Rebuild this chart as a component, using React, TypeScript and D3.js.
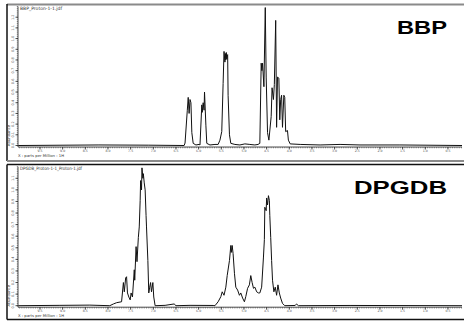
import * as d3 from "d3";

// BBP trace (ppm, relative abundance)
const bbpPpm = [
  9.98, 8.2, 7.1, 6.32, 6.3, 6.25, 6.23, 6.21, 6.19, 6.17, 6.15, 6.12, 6.06, 5.99,
  5.97, 5.93, 5.92, 5.9, 5.88, 5.87, 5.84, 5.82, 5.75, 5.64, 5.57,
  5.53, 5.49, 5.46, 5.44, 5.42, 5.41, 5.4, 5.39, 5.38, 5.37, 5.36, 5.35, 5.32, 5.29,
  5.2, 5.09, 4.98, 4.87, 4.76, 4.69,
  4.65, 4.62, 4.605, 4.59, 4.56, 4.53, 4.51, 4.48, 4.45,
  4.4, 4.38, 4.35, 4.33, 4.3, 4.28, 4.26, 4.23, 4.21, 4.19, 4.17, 4.15, 4.12, 4.1,
  4.08, 4.04, 4.02, 3.98, 3.76, 3.32, 2.88, 2.44, 1.56, 0.19,
];
const bbpAbundance = [
  0, 0.005, 0.003, 0, 0.023, 0.33, 0.45, 0.3, 0.43, 0.4, 0.12, 0.02, 0.005, 0.01,
  0.005, 0.38, 0.31, 0.4, 0.33, 0.5, 0.19, 0.02, 0.005, 0.01, 0.01,
  0.05, 0.13, 0.58, 0.88, 0.78, 0.86, 0.8, 0.87, 0.81, 0.84, 0.85, 0.47, 0.1, 0.02,
  0.01, 0.005, 0.015, 0.01, 0.005, 0.01,
  0.02, 0.77, 0.7, 0.77, 0.55, 1.29, 0.64, 0.12, 0.05,
  0.27, 0.54, 0.43, 0.57, 1.17, 0.17, 0.64, 0.63, 0.24, 0.43, 0.47, 0.17, 0.47, 0.45,
  0.13, 0.14, 0.05, 0.015, 0.01, 0.005, 0.01, 0.005, 0.005, 0,
];

// DPGDB trace (ppm, relative abundance)
const dpgdbPpm = [
  9.98, 9.06, 8.4, 7.96, 7.88, 7.81, 7.7, 7.66, 7.64, 7.61, 7.59, 7.57, 7.54, 7.51,
  7.49, 7.46, 7.42, 7.41, 7.38, 7.36, 7.33, 7.31, 7.29, 7.28, 7.26, 7.25, 7.23,
  7.22, 7.2, 7.18, 7.16, 7.15, 7.12, 7.1, 7.08, 7.06, 7.04, 7.01, 6.99, 6.96,
  6.74, 6.54, 6.5, 6.19, 5.68,
  5.64, 5.57, 5.51, 5.48, 5.44, 5.4, 5.37, 5.32, 5.29, 5.28, 5.26, 5.24, 5.21, 5.18,
  5.14, 5.1, 5.07, 5.03, 4.99, 4.96, 4.92, 4.88, 4.85, 4.82, 4.79, 4.76, 4.72, 4.68,
  4.65, 4.61, 4.57, 4.55, 4.54, 4.51, 4.5, 4.48, 4.46, 4.44, 4.43, 4.41, 4.39, 4.37,
  4.34, 4.31, 4.28, 4.25, 4.22, 4.19, 4.15, 4.1,
  3.87, 3.84, 3.8, 2.66, 0.19,
];
const dpgdbAbundance = [
  0, 0.003, 0.005, 0, 0.015, 0.026, 0.034, 0.2, 0.12, 0.24, 0.25, 0.11, 0.075, 0.05,
  0.11, 0.075, 0.31, 0.22, 0.51, 0.38, 0.59, 0.68, 0.91, 1.08, 1.0, 1.19, 1.1,
  1.14, 1.06, 1.0, 0.78, 0.68, 0.39, 0.11, 0.16, 0.2, 0.12, 0.2, 0.075, 0,
  0.003, 0.015, 0, 0.003, 0.002,
  0, 0.034, 0.078, 0.12, 0.09, 0.16, 0.26, 0.39, 0.52, 0.46, 0.52, 0.45, 0.28, 0.16,
  0.135, 0.09, 0.11, 0.066, 0.034, 0.078, 0.15, 0.18, 0.26, 0.2, 0.15, 0.16, 0.12, 0.11,
  0.11, 0.16, 0.42, 0.57, 0.85, 0.82, 0.93, 0.87, 0.95, 0.91, 0.78, 0.59, 0.39, 0.22,
  0.12, 0.16, 0.09, 0.18, 0.11, 0.066, 0.02, 0,
  0.002, 0.015, 0, 0.002, 0,
];

const ppmTicks = [9.5, 9.0, 8.5, 8.0, 7.5, 7.0, 6.5, 6.0, 5.5, 5.0, 4.5, 4.0, 3.5, 3.0, 2.5, 2.0, 1.5, 1.0, 0.5];
const bbpTicks = [0, 0.1, 0.2, 0.3, 0.4, 0.5, 0.6, 0.7, 0.8, 0.9, 1.0, 1.1, 1.2];
const dpgdbTicks = [0, 0.1, 0.2, 0.3, 0.4, 0.5, 0.6, 0.7, 0.8, 0.9, 1.0, 1.1];

interface PanelProps {
  ppm: number[];
  abundance: number[];
  yMax: number;
  yTicks: number[];
  base: number;
  fileName: string;
  fileWidth: number;
  name: string;
  nameWidth: number;
  nameY: number;
}

function Panel({ ppm, abundance, yMax, yTicks, base, fileName, fileWidth, name, nameWidth, nameY }: PanelProps) {
  const x = d3.scaleLinear().domain([9.985, 0.19]).range([18, 462]);
  const y = d3.scaleLinear().domain([0, yMax]).range([base, base - 139]);
  const line = d3
    .line<number>()
    .x((_, i) => x(ppm[i]))
    .y((d) => y(d));

  const axisY = base + 1.5;
  const minorX = d3.range(0.2, 9.98, 0.05);
  const minorY = d3.range(0, yMax + 0.001, 0.02);

  return (
    <g>
      {/* header */}
      <text x={20} y={base - 136} fontSize={4.5} fill="#333" textLength={fileWidth} lengthAdjust="spacingAndGlyphs">
        {fileName}
      </text>
      <text
        x={447}
        y={nameY}
        textAnchor="end"
        fontFamily="Liberation Sans, Arial, sans-serif"
        fontWeight="bold"
        fontSize={18}
        fill="#000"
        textLength={nameWidth}
        lengthAdjust="spacingAndGlyphs"
      >
        {name}
      </text>

      {/* y axis */}
      <line x1={18} x2={18} y1={y(yMax)} y2={axisY} stroke="#222" strokeWidth={0.8} />
      {minorY.map((v, i) => (
        <line key={"my" + i} x1={16.8} x2={18} y1={y(v)} y2={y(v)} stroke="#444" strokeWidth={0.6} />
      ))}
      {yTicks.map((v) => (
        <g key={"y" + v}>
          <line x1={15.5} x2={18} y1={y(v)} y2={y(v)} stroke="#222" strokeWidth={0.8} />
          <text
            transform={`translate(14,${y(v)}) rotate(-90)`}
            textAnchor="middle"
            fontSize={3.5}
            fill="#555"
          >
            {v.toFixed(1)}
          </text>
        </g>
      ))}
      <text
        transform={`translate(10,${base - 10}) rotate(-90)`}
        textAnchor="middle"
        fontSize={3.8}
        fill="#333"
      >
        Abundance
      </text>

      {/* x axis */}
      <line x1={18} x2={462} y1={axisY} y2={axisY} stroke="#222" strokeWidth={0.8} />
      {minorX.map((v, i) => (
        <line key={"mx" + i} x1={x(v)} x2={x(v)} y1={axisY} y2={axisY + 1.3} stroke="#444" strokeWidth={0.6} />
      ))}
      {ppmTicks.map((v) => (
        <g key={"x" + v}>
          <line x1={x(v)} x2={x(v)} y1={axisY} y2={axisY + 2.5} stroke="#222" strokeWidth={0.8} />
          <text x={x(v)} y={axisY + 5} textAnchor="middle" fontSize={3.2} fill="#555">
            {v.toFixed(1)}
          </text>
        </g>
      ))}
      <text x={18} y={base + 11.2} fontSize={3.8} fill="#333" textLength={46} lengthAdjust="spacingAndGlyphs">
        X : parts per Million : 1H
      </text>

      {/* spectrum */}
      <path d={line(abundance) ?? ""} fill="none" stroke="#111" strokeWidth={1} strokeLinejoin="round" />
    </g>
  );
}

export default function App() {
  return (
    <svg
      width={464}
      height={321}
      viewBox="0 0 464 321"
      style={{ position: "absolute", left: 0, top: 0, background: "#fff" }}
      fontFamily="DejaVu Sans, sans-serif"
    >
      <rect width={464} height={321} fill="#fff" />
      {/* frames */}
      <line x1={7} x2={464} y1={4.5} y2={4.5} stroke="#8a8a8a" strokeWidth={2} />
      <line x1={7} x2={7} y1={4} y2={161} stroke="#111" strokeWidth={1.5} />
      <line x1={7} x2={464} y1={161} y2={161} stroke="#8a8a8a" strokeWidth={2} />
      <line x1={7} x2={464} y1={164.5} y2={164.5} stroke="#111" strokeWidth={1.5} />
      <line x1={7} x2={7} y1={164.5} y2={319.5} stroke="#111" strokeWidth={1.5} />
      <line x1={7} x2={464} y1={319.5} y2={319.5} stroke="#111" strokeWidth={1.5} />

      <Panel
        ppm={bbpPpm}
        abundance={bbpAbundance}
        yMax={1.3}
        yTicks={bbpTicks}
        base={145.5}
        fileName="BBP_Proton-1-1.jdf"
        fileWidth={42}
        name="BBP"
        nameWidth={50}
        nameY={33.5}
      />
      <Panel
        ppm={dpgdbPpm}
        abundance={dpgdbAbundance}
        yMax={1.2}
        yTicks={dpgdbTicks}
        base={305.7}
        fileName="DPGDB_Proton-1-1_Proton-1.jdf"
        fileWidth={62}
        name="DPGDB"
        nameWidth={93}
        nameY={193.5}
      />
    </svg>
  );
}
